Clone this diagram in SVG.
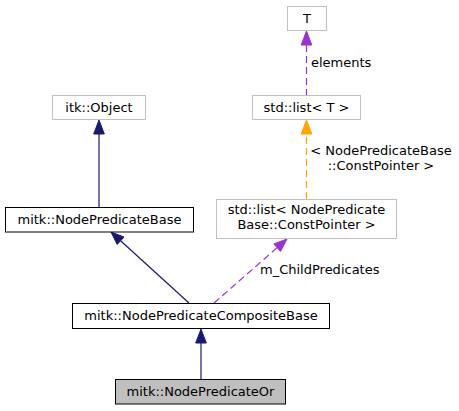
<svg xmlns="http://www.w3.org/2000/svg" width="459" height="411" viewBox="0 0 459 411">
<style>
text{font-family:"DejaVu Sans","Liberation Sans",sans-serif;font-size:13px;fill:#000}
.n text{text-anchor:middle}
.box{fill:#fff;stroke:#000;stroke-width:1}
.ext{fill:#fff;stroke:#bfbfbf;stroke-width:1}
.cur{fill:#bfbfbf;stroke:#000;stroke-width:1}
.inh{stroke:#191970;fill:none;stroke-width:1.2}
.inhh{fill:#191970;stroke:#191970}
.use{stroke:#9a32cd;fill:none;stroke-width:1.2;stroke-dasharray:7,4}
.useh{fill:#9a32cd;stroke:#9a32cd}
.tpl{stroke:#ffa500;fill:none;stroke-width:1.2;stroke-dasharray:7,4}
.tplh{fill:#ffa500;stroke:#ffa500}
</style>
<rect width="459" height="411" fill="#fff"/>
<g id="connectors">
  <path class="inh" d="M99,207.5V134"/>
  <polygon class="inhh" points="99,120 104.3,134 93.7,134"/>
  <path class="inh" d="M189,303L120.6,240.7"/>
  <polygon class="inhh" points="111,232 124,237 117.2,244.4"/>
  <path class="inh" d="M201,379V343"/>
  <polygon class="inhh" points="201,329 206.3,343 195.7,343"/>
  <path class="use" d="M214,303L277.2,247.6"/>
  <polygon class="useh" points="287,239 280.5,251.4 273.9,243.9"/>
  <path class="tpl" d="M306.5,199V134"/>
  <polygon class="tplh" points="306.5,120 311.8,134 301.2,134"/>
  <path class="use" d="M306.5,96V45"/>
  <polygon class="useh" points="306.5,31 311.8,45 301.2,45"/>
  <text x="311" y="67">elements</text>
  <text x="381" y="155" text-anchor="middle">&lt; NodePredicateBase</text>
  <text x="381" y="170" text-anchor="middle">::ConstPointer &gt;</text>
  <text x="260" y="274">m_ChildPredicates</text>
</g>
<g id="node-T" class="n">
  <rect class="ext" x="287.5" y="6.5" width="39" height="24"/>
  <text x="307" y="23">T</text>
</g>
<g id="node-stdlistT" class="n">
  <rect class="ext" x="252.5" y="95.5" width="108" height="24"/>
  <text x="306.5" y="112">std::list&lt; T &gt;</text>
</g>
<g id="node-itkObject" class="n">
  <rect class="ext" x="52.5" y="95.5" width="93" height="24"/>
  <text x="99" y="112">itk::Object</text>
</g>
<g id="node-NodePredicateBase" class="n">
  <rect class="box" x="5.5" y="207.5" width="188" height="24.5"/>
  <text x="99.5" y="224">mitk::NodePredicateBase</text>
</g>
<g id="node-stdlistConst" class="n">
  <rect class="ext" x="216.5" y="199.5" width="180" height="39"/>
  <text x="306.5" y="214">std::list&lt; NodePredicate</text>
  <text x="306.5" y="229">Base::ConstPointer &gt;</text>
</g>
<g id="node-CompositeBase" class="n">
  <rect class="box" x="72.5" y="303.5" width="257" height="25"/>
  <text x="201" y="320">mitk::NodePredicateCompositeBase</text>
</g>
<g id="node-Or" class="n">
  <rect class="cur" x="115.5" y="379.5" width="170" height="24.5"/>
  <text x="200.5" y="396">mitk::NodePredicateOr</text>
</g>
</svg>
